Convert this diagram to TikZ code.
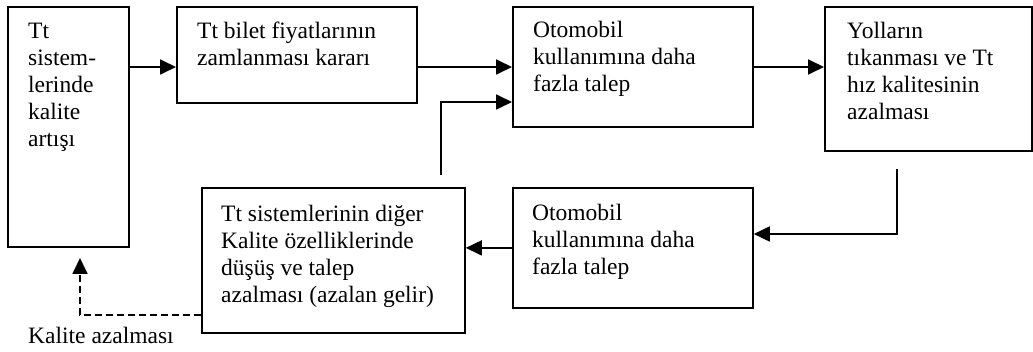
\documentclass[tikz,border=0pt]{standalone}
\usepackage{fontspec}
\setmainfont{Liberation Serif}
\usetikzlibrary{arrows.meta}
\begin{document}
\begin{tikzpicture}[x=1pt,y=-1pt,
  box/.style={draw, line width=1.8pt, inner sep=0pt, anchor=north west},
  txt/.style={anchor=north west, inner sep=0pt, align=left, font=\fontsize{23.5}{27}\selectfont},
  arr/.style={line width=1.8pt, -{Triangle[length=16pt,width=15pt]}},
  darr/.style={arr, dash pattern=on 7pt off 4pt}]
\useasboundingbox (0,0) rectangle (1033,352);
% boxes
\node[box, minimum width=121pt, minimum height=240pt] (A) at (7,6) {};
\node[box, minimum width=240pt, minimum height=96pt] (B) at (176,6) {};
\node[box, minimum width=240pt, minimum height=120pt] (C) at (512,6) {};
\node[box, minimum width=207pt, minimum height=144pt] (D) at (824,6) {};
\node[box, minimum width=240pt, minimum height=120pt] (E) at (512,187) {};
\node[box, minimum width=263pt, minimum height=145pt] (F) at (201,187) {};
% texts
\node[txt] (tA) at (28,19.1) {\strut Tt\\sistem-\\lerinde\\kalite\\artışı};
\node[txt] (tB) at (197,19.1) {\strut Tt bilet fiyatlarının\\zamlanması kararı};
\node[txt] (tC) at (533,18.1) {\strut Otomobil\\kullanımına daha\\fazla talep};
\node[txt] (tD) at (847,19.1) {\strut Yolların\\tıkanması ve Tt\\hız kalitesinin\\azalması};
\node[txt] (tE) at (532,201.1) {\strut Otomobil\\kullanımına daha\\fazla talep};
\node[txt] (tF) at (221,202.1) {\strut Tt sistemlerinin diğer\\Kalite özelliklerinde\\düşüş ve talep\\azalması (azalan gelir)};
\node[txt] (lab) at (28,324.1) {\strut Kalite azalması};
% helper coordinates
\coordinate (r1) at (0,67);
\coordinate (r2) at (0,102);
\coordinate (r3) at (0,234);
\coordinate (r4) at (0,315);
\coordinate (d1) at (897,169);
\coordinate (f1) at (441,175);
\coordinate (a1) at (80,258);
% connectors
\draw[arr] (A.east |- r1) -- (B.west |- r1);
\draw[arr] (B.east |- r1) -- (C.west |- r1);
\draw[arr] (C.east |- r1) -- (D.west |- r1);
\draw[arr] (d1) |- (E.east |- r3);
\draw[arr] (E.west) -- (F.east |- E.west);
\draw[arr] (f1) |- (C.west |- r2);
\draw[darr] (F.west |- r4) -| (a1);
\end{tikzpicture}
\end{document}
